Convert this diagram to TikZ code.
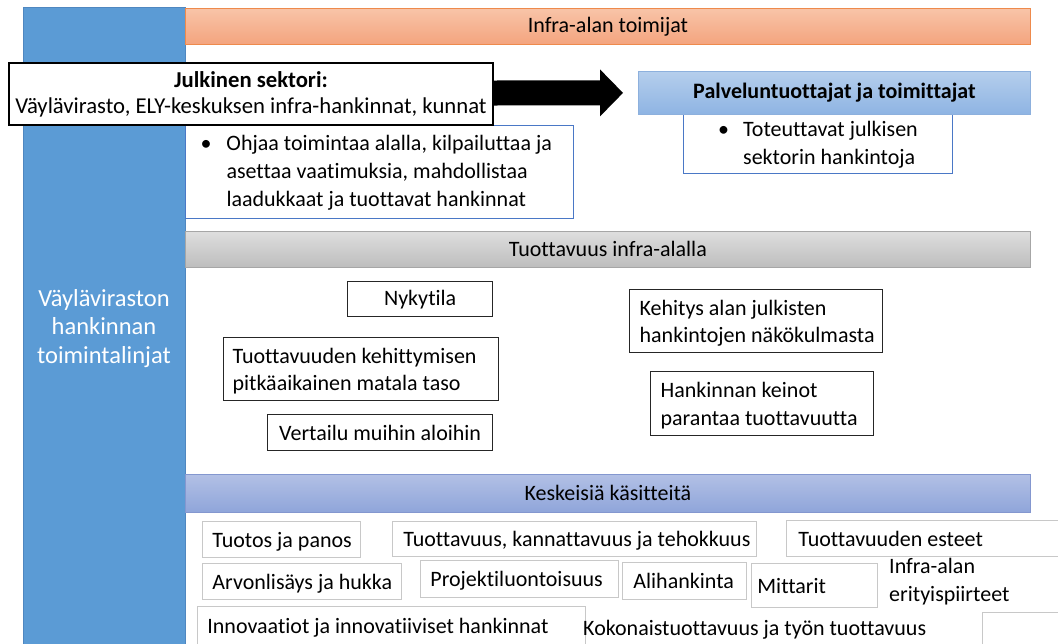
\documentclass[tikz,border=0pt]{standalone}
\usepackage{fontspec}
\setmainfont{Carlito}[Ligatures={NoCommon,TeX}]
\usetikzlibrary{calc}

\definecolor{barblue}{HTML}{5B9BD5}
\definecolor{barline}{HTML}{4F87C0}
\definecolor{orangetop}{HTML}{F8C4A8}
\definecolor{orangebot}{HTML}{F4A47E}
\definecolor{orangeline}{HTML}{EE8A4C}
\definecolor{palvtop}{HTML}{B5CEEC}
\definecolor{palvbot}{HTML}{8EB4E3}
\definecolor{palvline}{HTML}{8DB0DD}
\definecolor{greytop}{HTML}{DEDEDE}
\definecolor{greybot}{HTML}{BDBDBD}
\definecolor{greyline}{HTML}{A6A6A6}
\definecolor{kesktop}{HTML}{B2C0E5}
\definecolor{keskbot}{HTML}{8FA5DA}
\definecolor{keskline}{HTML}{8497CF}
\definecolor{boxblue}{HTML}{4A78C6}
\definecolor{boxdark}{HTML}{262626}
\definecolor{boxgrey}{HTML}{C8C8C8}

% left-aligned block of lines in a box of fixed width, set a little low
\newcommand{\leftcell}[2]{\makebox[#1][l]{\raisebox{-2.5pt}[\height][\depth]{\begin{tabular}{@{}l@{}}#2\end{tabular}}}}
% bulleted block with a hanging indent
\newcommand{\bulletcell}[2]{\raisebox{-1pt}[\height][\depth]{\begin{tabular}{@{}p{#1}@{}l@{}}#2\end{tabular}}}

\tikzset{
  base/.style={anchor=north west, inner sep=0pt, font=\fontsize{22}{27.5}\selectfont},
  band/.style={base, minimum width=845, minimum height=36, line width=0.8pt},
  darkbox/.style={base, draw=boxdark, line width=1.3pt, fill=white},
  bluebox/.style={base, draw=boxblue, line width=1pt, fill=white},
  greybox/.style={base, draw=boxgrey, line width=0.8pt, fill=white},
}

\begin{document}
\begin{tikzpicture}[x=1pt, y=-1pt]
\useasboundingbox (0,0) rectangle (1058,643);
\clip (0,0) rectangle (1058,643);
\fill[white] (0,0) rectangle (1058,643);

% vertical title bar
\node[base, fill=barblue, draw=barline, line width=1pt, minimum width=162, minimum height=660] (bar) at (23,7) {};
\node[text=white, align=center, font=\fontsize{24.5}{28.5}\selectfont] (bartext) at (104,328.5) {Väyläviraston\\hankinnan\\toimintalinjat};

% actors section
\node[band, top color=orangetop, bottom color=orangebot, draw=orangeline] (infra) at (185,8) {Infra-alan toimijat};

\node[bluebox, minimum height=93, inner xsep=15, font=\fontsize{22}{28}\selectfont] (ohj) at (185,125)
  {\makebox[358pt][l]{\bulletcell{26pt}{\textbullet & Ohjaa toimintaa alalla, kilpailuttaa ja\\ & asettaa vaatimuksia, mahdollistaa\\ & laadukkaat ja tuottavat hankinnat}}};

\node[base, draw=black, line width=2pt, fill=white, minimum width=484, minimum height=62, align=center, font=\fontsize{22.7}{26}\selectfont] (julk) at (8,62)
  {\textbf{Julkinen sektori:}\\Väylävirasto, ELY-keskuksen infra-hankinnat, kunnat};

\node[bluebox, minimum width=269, minimum height=59] (tot) at (683,114)
  {\bulletcell{25pt}{\textbullet & Toteuttavat julkisen\\ & sektorin hankintoja}};

\node[base, top color=palvtop, bottom color=palvbot, draw=palvline, line width=0.8pt, minimum width=392, minimum height=43, font=\fontsize{22}{27}\selectfont\bfseries] (palv) at (638,71) {Palveluntuottajat ja toimittajat};

% block arrow from the public sector to the suppliers
\path (julk.east) ++(0,-1) coordinate (atail);
\path (palv.west) ++(-15,0) coordinate (atip);
\fill[black] ($(atail)+(0,-12.5)$) -- ($(atip)+(-23,-12.5)$) -- ($(atip)+(-23,-23.5)$) -- (atip)
  -- ($(atip)+(-23,23.5)$) -- ($(atip)+(-23,12.5)$) -- ($(atail)+(0,12.5)$) -- cycle;

% productivity section
\node[band, top color=greytop, bottom color=greybot, draw=greyline] (tuot) at (185,231) {Tuottavuus infra-alalla};

\node[darkbox, minimum width=145, minimum height=35] (nyky) at (347,281) {Nykytila};
\node[darkbox, minimum height=63, inner xsep=9] (tkm) at (223,337) {\leftcell{257pt}{Tuottavuuden kehittymisen\\pitkäaikainen matala taso}};
\node[darkbox, minimum width=225, minimum height=36] (vert) at (267,414) {Vertailu muihin aloihin};
\node[darkbox, minimum height=63, inner xsep=10] (keh) at (629,289) {\leftcell{233pt}{Kehitys alan julkisten\\hankintojen näkökulmasta}};
\node[darkbox, minimum height=64, inner xsep=10] (hk) at (650,371) {\leftcell{203pt}{Hankinnan keinot\\parantaa tuottavuutta}};

% key concepts section
\node[band, minimum height=38, top color=kesktop, bottom color=keskbot, draw=keskline] (kesk) at (185,474) {Keskeisiä käsitteitä};

\node[greybox, minimum height=36, inner xsep=10] (tuotos) at (202,521) {\leftcell{138pt}{Tuotos ja panos}};
\node[greybox, minimum height=35, inner xsep=11] (tkt) at (392,521) {\leftcell{342pt}{Tuottavuus, kannattavuus ja tehokkuus}};
\node[greybox, minimum height=36, inner xsep=12] (este) at (786,520) {\leftcell{266pt}{Tuottavuuden esteet}};
\node[greybox, minimum height=36, inner xsep=10] (arvo) at (202,563) {\leftcell{179pt}{Arvonlisäys ja hukka}};
\node[greybox, minimum height=37, inner xsep=10] (proj) at (420,560) {\leftcell{178pt}{Projektiluontoisuus}};
\node[greybox, minimum height=37, inner xsep=11] (ali) at (622,562) {\leftcell{102pt}{Alihankinta}};
\node[greybox, minimum height=44, inner xsep=6] (mitt) at (751,563) {\leftcell{114pt}{Mittarit}};
\node[base, anchor=west] (erit) at (889,579.5) {\leftcell{160pt}{Infra-alan\\erityispiirteet}};
\node[greybox, minimum height=38, inner xsep=10] (innov) at (197,606) {\leftcell{368pt}{Innovaatiot ja innovatiiviset hankinnat}};
\node[base, anchor=west] (koko) at (583,627) {\leftcell{380pt}{Kokonaistuottavuus ja työn tuottavuus}};
\node[greybox, minimum width=100, minimum height=50] (tyhja) at (982,612) {};
\end{tikzpicture}
\end{document}
